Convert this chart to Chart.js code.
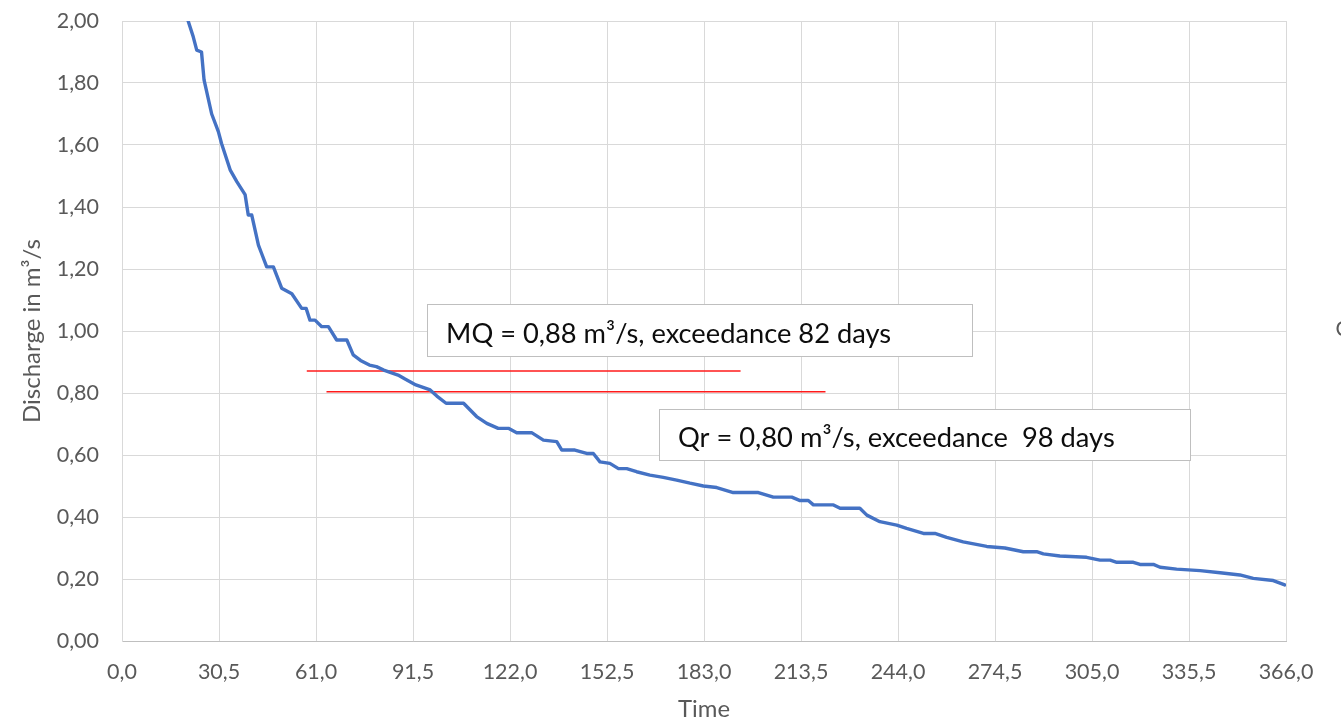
<!DOCTYPE html>
<html>
<head>
<meta charset="utf-8">
<script src="https://cdn.jsdelivr.net/npm/chart.js@4/dist/chart.umd.min.js"></script>
<style>
html,body{margin:0;padding:0;background:#fff;overflow:hidden}
#wrap{width:1341px;height:724px;position:relative}
canvas{display:block}
</style>
</head>
<body>
<div id="wrap"><canvas id="c" width="1341" height="724"></canvas></div>
<script>
// ---- data ----
const days = [18, 20.8, 22.4, 23.5, 25.0, 25.8, 28.2, 30.3, 31.3, 34.0,
  36.1, 38.7, 39.7, 40.8, 42.9, 43.9, 45.5, 47.6, 50.2, 53.4,
  56.5, 57.9, 59.1, 60.7, 62.8, 64.9, 67.5, 70.7, 72.7, 75.0,
  77.8, 80.0, 82.3, 86.8, 89.0, 92.4, 96.9, 99.0, 101.9, 107.4,
  111.5, 114.7, 118.3, 121.5, 124.1, 128.8, 132.5, 136.7, 138.3, 142.4,
  146.1, 148.2, 150.3, 153.4, 156.1, 158.7, 161.8, 166.0, 170.2, 174.4,
  178.6, 182.8, 187.0, 192.2, 200.1, 204.8, 210.6, 213.2, 215.8, 217.4,
  223.7, 225.8, 232.0, 234.2, 238.3, 243.6, 246.7, 252.0, 255.6, 259.3,
  264.5, 271.9, 277.6, 283.4, 287.6, 289.7, 294.9, 303.3, 307.5, 310.7,
  312.8, 318.0, 320.1, 324.3, 326.4, 331.6, 339.0, 345.3, 351.5, 355.7,
  362.0, 365.6];
const discharge = [2.15, 2.00, 1.949, 1.906, 1.90, 1.81, 1.70, 1.643, 1.605, 1.52,
  1.482, 1.44, 1.374, 1.374, 1.277, 1.25, 1.207, 1.207, 1.138, 1.12,
  1.073, 1.073, 1.035, 1.035, 1.014, 1.014, 0.971, 0.971, 0.923, 0.905,
  0.890, 0.885, 0.874, 0.858, 0.845, 0.826, 0.81, 0.79, 0.767, 0.767,
  0.724, 0.702, 0.686, 0.686, 0.672, 0.672, 0.648, 0.643, 0.616, 0.616,
  0.605, 0.605, 0.578, 0.573, 0.556, 0.556, 0.546, 0.535, 0.528, 0.519,
  0.509, 0.50, 0.495, 0.479, 0.479, 0.464, 0.464, 0.453, 0.453, 0.439,
  0.439, 0.428, 0.428, 0.406, 0.385, 0.374, 0.363, 0.347, 0.347, 0.334,
  0.320, 0.305, 0.300, 0.288, 0.288, 0.281, 0.274, 0.270, 0.261, 0.261,
  0.254, 0.254, 0.247, 0.247, 0.238, 0.232, 0.227, 0.220, 0.213, 0.202,
  0.195, 0.181];

const mqLineDays = [58.1, 194.5];
const mqLineValues = [0.871, 0.871];
const qrLineDays = [64.3, 221.2];
const qrLineValues = [0.804, 0.804];

const xTickLabels = ['0,0','30,5','61,0','91,5','122,0','152,5','183,0','213,5','244,0','274,5','305,0','335,5','366,0'];
const yTickLabels = ['0,00','0,20','0,40','0,60','0,80','1,00','1,20','1,40','1,60','1,80','2,00'];

const annotationTexts = ['MQ = 0,88 m³/s, exceedance 82 days', 'Qr = 0,80 m³/s, exceedance  98 days'];
const xTitle = 'Time';
const yTitle = 'Discharge in m³/s';
const strayText = 'C';

// ---- layout / style ----
const FONT = 'Lato, "Open Sans", sans-serif';
const measureCtx = document.createElement('canvas').getContext('2d');
function fitSize(text, target) {
  measureCtx.font = '100px ' + FONT;
  return 100 * target / measureCtx.measureText(text).width;
}
const tickSize = fitSize('183,0', 54.7);
const xTitleSize = fitSize(xTitle, 52);
const yTitleSize = fitSize(yTitle, 184);
const annSizes = [fitSize(annotationTexts[0], 445), fitSize(annotationTexts[1], 437)];

// annotation boxes, in axis units (days / m³/s)
const boxLayout = [
  {x0: 95.9, x1: 267.3, yTop: 1.087, yBottom: 0.919, textDay: 101.9},
  {x0: 168.9, x1: 335.8, yTop: 0.748, yBottom: 0.584, textDay: 174.8}
];

const boxPlugin = {
  id: 'boxes',
  afterDatasetsDraw(chart) {
    const {ctx, scales: {x, y}} = chart;
    ctx.save();
    boxLayout.forEach((b, i) => {
      const l = Math.round(x.getPixelForValue(b.x0)) + 0.5;
      const r = Math.round(x.getPixelForValue(b.x1)) + 0.5;
      const t = Math.round(y.getPixelForValue(b.yTop)) + 0.5;
      const btm = Math.round(y.getPixelForValue(b.yBottom)) + 0.5;
      ctx.fillStyle = '#ffffff';
      ctx.fillRect(l, t, r - l, btm - t);
      ctx.strokeStyle = '#bfbfbf';
      ctx.lineWidth = 1;
      ctx.strokeRect(l, t, r - l, btm - t);
      ctx.fillStyle = '#0d0d0d';
      ctx.font = annSizes[i].toFixed(2) + 'px ' + FONT;
      ctx.textBaseline = 'alphabetic';
      ctx.textAlign = 'left';
      ctx.fillText(annotationTexts[i], x.getPixelForValue(b.textDay), btm - 13.5);
    });
    ctx.fillStyle = '#595959';
    ctx.font = '21px ' + FONT;
    ctx.textBaseline = 'middle';
    ctx.textAlign = 'left';
    ctx.fillText(strayText, 1335.5, 329);
    ctx.restore();
  }
};

const curve = days.map((d, i) => ({x: d, y: discharge[i]}));
const mqLine = mqLineDays.map((d, i) => ({x: d, y: mqLineValues[i]}));
const qrLine = qrLineDays.map((d, i) => ({x: d, y: qrLineValues[i]}));

new Chart(document.getElementById('c'), {
  type: 'line',
  data: {
    datasets: [
      {data: mqLine, borderColor: '#ff1a1a', borderWidth: 1.5, pointRadius: 0, tension: 0, order: 2},
      {data: qrLine, borderColor: '#ff1a1a', borderWidth: 1.5, pointRadius: 0, tension: 0, order: 2},
      {data: curve, borderColor: '#4472c4', borderWidth: 3.4, pointRadius: 0, tension: 0,
       borderJoinStyle: 'round', borderCapStyle: 'round', order: 1}
    ]
  },
  options: {
    responsive: false,
    devicePixelRatio: 1,
    animation: false,
    layout: {padding: {top: 21, right: 55, bottom: 0, left: 0}},
    plugins: {legend: {display: false}, tooltip: {enabled: false}},
    scales: {
      x: {
        type: 'linear', min: 0, max: 366,
        afterFit: s => { s.height = 83; },
        grid: {color: '#d9d9d9', lineWidth: 1, drawTicks: false},
        border: {color: '#bfbfbf', width: 1},
        ticks: {
          stepSize: 30.5, autoSkip: false, maxRotation: 0, padding: 18,
          color: '#595959', font: {family: FONT, size: tickSize},
          callback: (v, i) => xTickLabels[i] ?? ''
        },
        title: {display: true, text: xTitle, color: '#595959',
          font: {family: FONT, size: xTitleSize}, padding: {top: 0, bottom: 0}}
      },
      y: {
        type: 'linear', min: 0, max: 2,
        afterFit: s => { s.width = 122; s.paddingTop = 12; s.paddingBottom = 12; },
        grid: {color: '#d9d9d9', lineWidth: 1, drawTicks: false},
        border: {color: '#d9d9d9', width: 1},
        ticks: {
          stepSize: 0.2, padding: 23,
          color: '#595959', font: {family: FONT, size: tickSize},
          callback: (v, i) => yTickLabels[i] ?? ''
        },
        title: {display: true, text: yTitle, color: '#595959',
          font: {family: FONT, size: yTitleSize}, padding: {top: 18, bottom: 0}}
      }
    }
  },
  plugins: [boxPlugin]
});
</script>
</body>
</html>
